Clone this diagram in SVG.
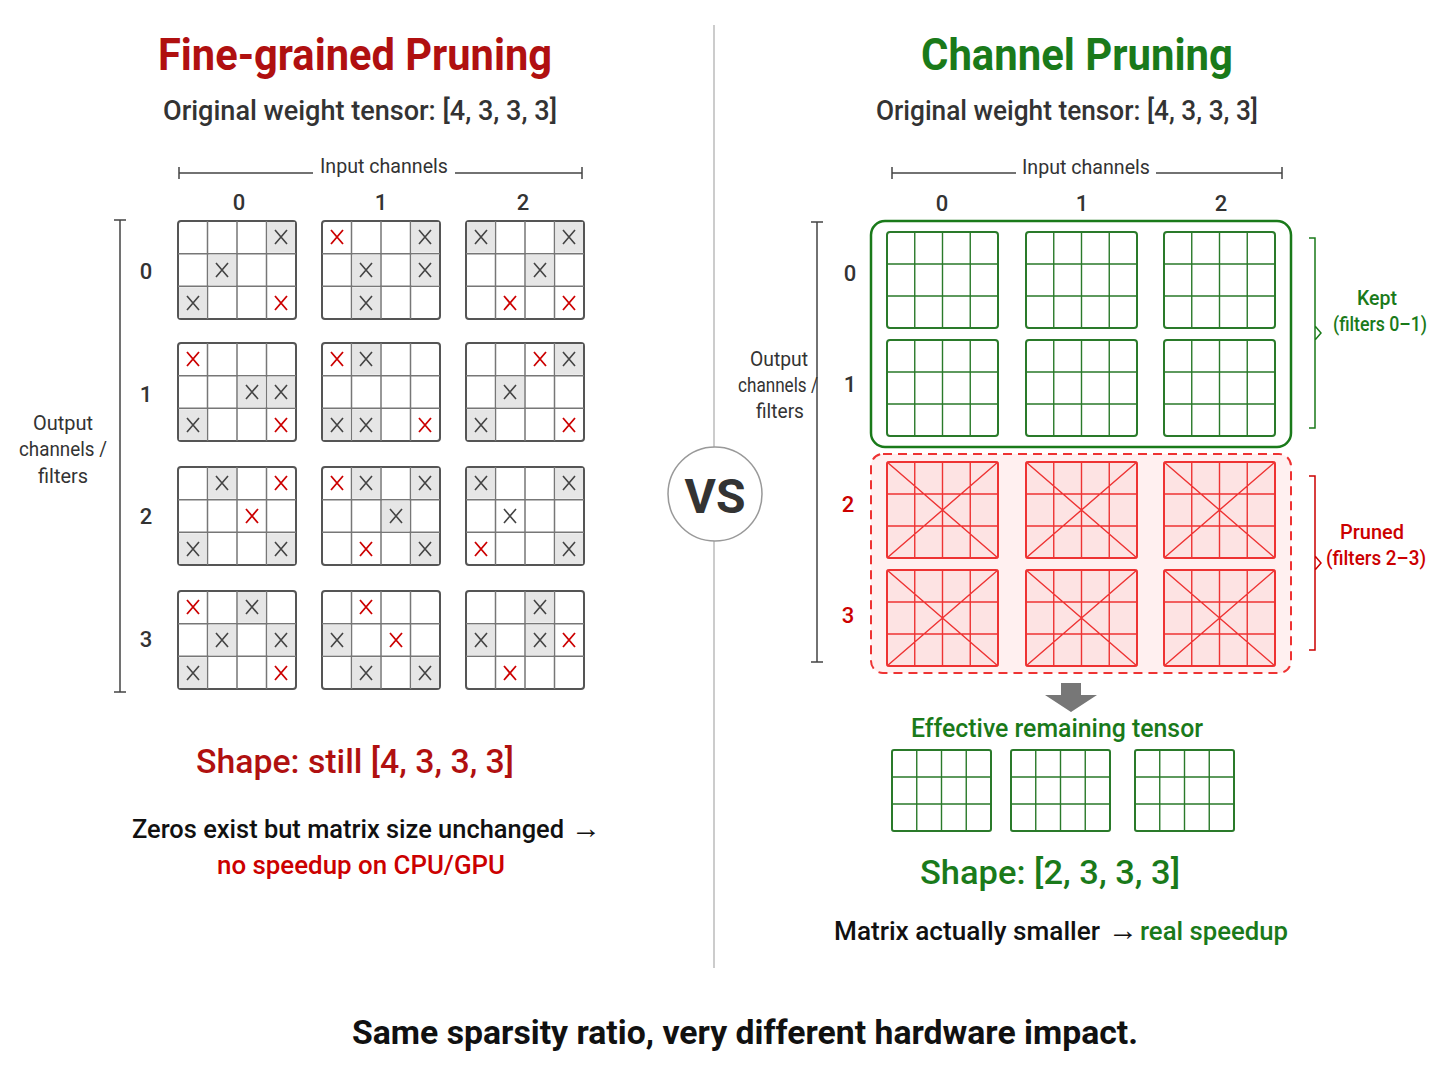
<svg xmlns="http://www.w3.org/2000/svg" width="1448" height="1086" viewBox="0 0 1448 1086">
<style>
text{font-family:Roboto,"Liberation Sans",sans-serif;}
.m{font-weight:500}
.cell{fill:none;stroke:#777;stroke-width:1.5}
.frame{fill:#fff;stroke:#555;stroke-width:2}
.sh{fill:#e6e6e6}
.xg{stroke:#444;stroke-width:1.6}
.xr{stroke:#c00;stroke-width:1.8}
.gf{fill:#fff;stroke:#2a7a2a;stroke-width:2}
.gl{stroke:#2a7a2a;stroke-width:1.4}
.rf{fill:#fde3e3;stroke:#e33;stroke-width:2}
.rl{stroke:#e33;stroke-width:1.4}
.br{fill:none;stroke:#444;stroke-width:1.5}
</style>
<rect width="1448" height="1086" fill="#fff"/>
<defs>
<g id="gridL">
<rect class="frame" x="0" y="0" width="118" height="98" rx="3"/>
<path class="cell" d="M29.5 0V98M59 0V98M88.5 0V98M0 32.7H118M0 65.3H118"/>
</g>
<g id="gridG">
<rect class="gf" x="0" y="0" width="111" height="96" rx="3"/>
<path class="gl" d="M27.75 0V96M55.5 0V96M83.25 0V96M0 32H111M0 64H111"/>
</g>
<g id="gridR">
<rect class="rf" x="0" y="0" width="111" height="96" rx="2"/>
<path class="rl" d="M27.75 0V96M55.5 0V96M83.25 0V96M0 32H111M0 64H111M0 0L111 96M111 0L0 96"/>
</g>
<g id="gridE">
<rect class="gf" x="0" y="0" width="99" height="81" rx="2"/>
<path class="gl" d="M24.75 0V81M49.5 0V81M74.25 0V81M0 27H99M0 54H99"/>
</g>
<path id="xx" d="M-6 -7L6 7M6 -7L-6 7"/>
</defs>

<g id="divider"><line x1="714" y1="25" x2="714" y2="968" stroke="#bbb" stroke-width="1.5"/></g>

<g id="left-titles">
<text x="355" y="70" font-size="44" font-weight="bold" fill="#b01010" text-anchor="middle" textLength="394" lengthAdjust="spacingAndGlyphs">Fine-grained Pruning</text>
<text class="m" x="360" y="120" font-size="28" fill="#333" text-anchor="middle" textLength="394" lengthAdjust="spacingAndGlyphs">Original weight tensor: [4, 3, 3, 3]</text>
<text x="384" y="173" font-size="20" fill="#333" text-anchor="middle" textLength="128" lengthAdjust="spacingAndGlyphs">Input channels</text>
<path class="br" d="M179 167V179M179 173H313M455 173H582M582 167V179"/>
<text class="m" x="239" y="210" font-size="22" fill="#333" text-anchor="middle">0</text>
<text class="m" x="381" y="210" font-size="22" fill="#333" text-anchor="middle">1</text>
<text class="m" x="523" y="210" font-size="22" fill="#333" text-anchor="middle">2</text>
<path class="br" d="M114 220H126M120 220V692M114 692H126"/>
<text x="63" y="430" font-size="20" fill="#333" text-anchor="middle" textLength="60" lengthAdjust="spacingAndGlyphs">Output</text>
<text x="63" y="456" font-size="20" fill="#333" text-anchor="middle" textLength="88" lengthAdjust="spacingAndGlyphs">channels /</text>
<text x="63" y="483" font-size="20" fill="#333" text-anchor="middle" textLength="50" lengthAdjust="spacingAndGlyphs">filters</text>
<text class="m" x="146" y="279" font-size="22" fill="#333" text-anchor="middle">0</text>
<text class="m" x="146" y="402" font-size="22" fill="#333" text-anchor="middle">1</text>
<text class="m" x="146" y="524" font-size="22" fill="#333" text-anchor="middle">2</text>
<text class="m" x="146" y="647" font-size="22" fill="#333" text-anchor="middle">3</text>
<text class="m" x="355" y="773" font-size="34" fill="#b01010" text-anchor="middle" textLength="318" lengthAdjust="spacingAndGlyphs">Shape: still [4, 3, 3, 3]</text>
<text class="m" x="132" y="838" font-size="26" fill="#111" textLength="432" lengthAdjust="spacingAndGlyphs">Zeros exist but matrix size unchanged</text>
<text class="m" x="571" y="838" font-size="30" fill="#111">→</text>
<text class="m" x="361" y="874" font-size="26" fill="#c00" text-anchor="middle" textLength="288" lengthAdjust="spacingAndGlyphs">no speedup on CPU/GPU</text>
</g>

<g id="vs">
<circle cx="715" cy="494" r="47" fill="#fff" stroke="#999" stroke-width="1.5"/>
<text x="715" y="513" font-size="48" font-weight="bold" fill="#333" text-anchor="middle">VS</text>
</g>

<g id="right-titles">
<text x="1077" y="70" font-size="44" font-weight="bold" fill="#1a7a1a" text-anchor="middle" textLength="312" lengthAdjust="spacingAndGlyphs">Channel Pruning</text>
<text class="m" x="1067" y="120" font-size="28" fill="#333" text-anchor="middle" textLength="382" lengthAdjust="spacingAndGlyphs">Original weight tensor: [4, 3, 3, 3]</text>
<text x="1086" y="174" font-size="20" fill="#333" text-anchor="middle" textLength="128" lengthAdjust="spacingAndGlyphs">Input channels</text>
<path class="br" d="M892 167V179M892 173H1016M1156 173H1282M1282 167V179"/>
<text class="m" x="942" y="211" font-size="22" fill="#333" text-anchor="middle">0</text>
<text class="m" x="1082" y="211" font-size="22" fill="#333" text-anchor="middle">1</text>
<text class="m" x="1221" y="211" font-size="22" fill="#333" text-anchor="middle">2</text>
<path class="br" d="M811 222H823M817 222V662M811 662H823"/>
<text x="779" y="366" font-size="20" fill="#333" text-anchor="middle" textLength="58" lengthAdjust="spacingAndGlyphs">Output</text>
<text x="778" y="392" font-size="20" fill="#333" text-anchor="middle" textLength="80" lengthAdjust="spacingAndGlyphs">channels /</text>
<text x="780" y="418" font-size="20" fill="#333" text-anchor="middle" textLength="48" lengthAdjust="spacingAndGlyphs">filters</text>
<text class="m" x="850" y="281" font-size="22" fill="#333" text-anchor="middle">0</text>
<text class="m" x="850" y="392" font-size="22" fill="#333" text-anchor="middle">1</text>
<text class="m" x="848" y="512" font-size="22" fill="#c00" text-anchor="middle">2</text>
<text class="m" x="848" y="623" font-size="22" fill="#c00" text-anchor="middle">3</text>
</g>

<g id="kept">
<rect x="871" y="221" width="420" height="226" rx="14" fill="#fff" stroke="#1a7a1a" stroke-width="2.5"/>
<use href="#gridG" x="887" y="232"/><use href="#gridG" x="1026" y="232"/><use href="#gridG" x="1164" y="232"/>
<use href="#gridG" x="887" y="340"/><use href="#gridG" x="1026" y="340"/><use href="#gridG" x="1164" y="340"/>
<path d="M1309 238H1315V428H1309M1315 326L1321 333L1315 340" fill="none" stroke="#1a7a1a" stroke-width="1.5"/>
<text class="m" x="1377" y="305" font-size="20" fill="#1a7a1a" text-anchor="middle" textLength="40" lengthAdjust="spacingAndGlyphs">Kept</text>
<text class="m" x="1380" y="331" font-size="20" fill="#1a7a1a" text-anchor="middle" textLength="94" lengthAdjust="spacingAndGlyphs">(filters 0–1)</text>
</g>

<g id="pruned">
<rect x="871" y="454" width="420" height="219" rx="12" fill="#fff0f0" stroke="#e33" stroke-width="2" stroke-dasharray="9 6"/>
<use href="#gridR" x="887" y="462"/><use href="#gridR" x="1026" y="462"/><use href="#gridR" x="1164" y="462"/>
<use href="#gridR" x="887" y="570"/><use href="#gridR" x="1026" y="570"/><use href="#gridR" x="1164" y="570"/>
<path d="M1309 476H1315V650H1309M1315 556L1321 563L1315 570" fill="none" stroke="#c00" stroke-width="1.5"/>
<text class="m" x="1372" y="539" font-size="20" fill="#c00" text-anchor="middle" textLength="64" lengthAdjust="spacingAndGlyphs">Pruned</text>
<text class="m" x="1376" y="565" font-size="20" fill="#c00" text-anchor="middle" textLength="100" lengthAdjust="spacingAndGlyphs">(filters 2–3)</text>
</g>

<g id="arrow"><path d="M1061 683H1081V695H1097L1071 712L1045 695H1061Z" fill="#777"/></g>

<g id="effective">
<text class="m" x="1057" y="737" font-size="26" fill="#1a7a1a" text-anchor="middle" textLength="292" lengthAdjust="spacingAndGlyphs">Effective remaining tensor</text>
<use href="#gridE" x="892" y="750"/><use href="#gridE" x="1011" y="750"/><use href="#gridE" x="1135" y="750"/>
<text class="m" x="1050" y="884" font-size="34" fill="#1a7a1a" text-anchor="middle" textLength="260" lengthAdjust="spacingAndGlyphs">Shape: [2, 3, 3, 3]</text>
<text class="m" x="834" y="940" font-size="26" fill="#111" textLength="266" lengthAdjust="spacingAndGlyphs">Matrix actually smaller</text>
<text class="m" x="1108" y="940" font-size="30" fill="#111">→</text>
<text class="m" x="1140" y="940" font-size="26" fill="#1a7a1a" textLength="148" lengthAdjust="spacingAndGlyphs">real speedup</text>
</g>

<g id="footer"><text x="745" y="1044" font-size="34" font-weight="bold" fill="#111" text-anchor="middle" textLength="786" lengthAdjust="spacingAndGlyphs">Same sparsity ratio, very different hardware impact.</text></g>

<g id="fine-grids">
<g transform="translate(178,221)"><use href="#gridL"/>
<rect class="sh" x="89.5" y="1" width="27.5" height="30.7"/><rect class="sh" x="30.5" y="33.7" width="27.5" height="30.6"/><rect class="sh" x="1" y="66.3" width="27.5" height="30.7"/>
<use href="#xx" class="xg" x="103" y="16"/><use href="#xx" class="xg" x="44" y="49"/><use href="#xx" class="xg" x="15" y="82"/><use href="#xx" class="xr" x="103" y="82"/></g>
<g transform="translate(322,221)"><use href="#gridL"/>
<rect class="sh" x="89.5" y="1" width="27.5" height="30.7"/><rect class="sh" x="30.5" y="33.7" width="27.5" height="30.6"/><rect class="sh" x="89.5" y="33.7" width="27.5" height="30.6"/><rect class="sh" x="30.5" y="66.3" width="27.5" height="30.7"/>
<use href="#xx" class="xr" x="15" y="16"/><use href="#xx" class="xg" x="103" y="16"/><use href="#xx" class="xg" x="44" y="49"/><use href="#xx" class="xg" x="103" y="49"/><use href="#xx" class="xg" x="44" y="82"/></g>
<g transform="translate(466,221)"><use href="#gridL"/>
<rect class="sh" x="1" y="1" width="27.5" height="30.7"/><rect class="sh" x="89.5" y="1" width="27.5" height="30.7"/><rect class="sh" x="60" y="33.7" width="27.5" height="30.6"/>
<use href="#xx" class="xg" x="15" y="16"/><use href="#xx" class="xg" x="103" y="16"/><use href="#xx" class="xg" x="74" y="49"/><use href="#xx" class="xr" x="44" y="82"/><use href="#xx" class="xr" x="103" y="82"/></g>
<g transform="translate(178,343)"><use href="#gridL"/>
<rect class="sh" x="60" y="33.7" width="27.5" height="30.6"/><rect class="sh" x="89.5" y="33.7" width="27.5" height="30.6"/><rect class="sh" x="1" y="66.3" width="27.5" height="30.7"/>
<use href="#xx" class="xr" x="15" y="16"/><use href="#xx" class="xg" x="74" y="49"/><use href="#xx" class="xg" x="103" y="49"/><use href="#xx" class="xg" x="15" y="82"/><use href="#xx" class="xr" x="103" y="82"/></g>
<g transform="translate(322,343)"><use href="#gridL"/>
<rect class="sh" x="30.5" y="1" width="27.5" height="30.7"/><rect class="sh" x="1" y="66.3" width="27.5" height="30.7"/><rect class="sh" x="30.5" y="66.3" width="27.5" height="30.7"/>
<use href="#xx" class="xr" x="15" y="16"/><use href="#xx" class="xg" x="44" y="16"/><use href="#xx" class="xg" x="15" y="82"/><use href="#xx" class="xg" x="44" y="82"/><use href="#xx" class="xr" x="103" y="82"/></g>
<g transform="translate(466,343)"><use href="#gridL"/>
<rect class="sh" x="89.5" y="1" width="27.5" height="30.7"/><rect class="sh" x="30.5" y="33.7" width="27.5" height="30.6"/><rect class="sh" x="1" y="66.3" width="27.5" height="30.7"/>
<use href="#xx" class="xr" x="74" y="16"/><use href="#xx" class="xg" x="103" y="16"/><use href="#xx" class="xg" x="44" y="49"/><use href="#xx" class="xg" x="15" y="82"/><use href="#xx" class="xr" x="103" y="82"/></g>
<g transform="translate(178,467)"><use href="#gridL"/>
<rect class="sh" x="30.5" y="1" width="27.5" height="30.7"/><rect class="sh" x="1" y="66.3" width="27.5" height="30.7"/><rect class="sh" x="89.5" y="66.3" width="27.5" height="30.7"/>
<use href="#xx" class="xg" x="44" y="16"/><use href="#xx" class="xr" x="103" y="16"/><use href="#xx" class="xr" x="74" y="49"/><use href="#xx" class="xg" x="15" y="82"/><use href="#xx" class="xg" x="103" y="82"/></g>
<g transform="translate(322,467)"><use href="#gridL"/>
<rect class="sh" x="30.5" y="1" width="27.5" height="30.7"/><rect class="sh" x="89.5" y="1" width="27.5" height="30.7"/><rect class="sh" x="60" y="33.7" width="27.5" height="30.6"/><rect class="sh" x="89.5" y="66.3" width="27.5" height="30.7"/>
<use href="#xx" class="xr" x="15" y="16"/><use href="#xx" class="xg" x="44" y="16"/><use href="#xx" class="xg" x="103" y="16"/><use href="#xx" class="xg" x="74" y="49"/><use href="#xx" class="xr" x="44" y="82"/><use href="#xx" class="xg" x="103" y="82"/></g>
<g transform="translate(466,467)"><use href="#gridL"/>
<rect class="sh" x="1" y="1" width="27.5" height="30.7"/><rect class="sh" x="89.5" y="1" width="27.5" height="30.7"/><rect class="sh" x="89.5" y="66.3" width="27.5" height="30.7"/>
<use href="#xx" class="xg" x="15" y="16"/><use href="#xx" class="xg" x="103" y="16"/><use href="#xx" class="xg" x="44" y="49"/><use href="#xx" class="xr" x="15" y="82"/><use href="#xx" class="xg" x="103" y="82"/></g>
<g transform="translate(178,591)"><use href="#gridL"/>
<rect class="sh" x="60" y="1" width="27.5" height="30.7"/><rect class="sh" x="30.5" y="33.7" width="27.5" height="30.6"/><rect class="sh" x="89.5" y="33.7" width="27.5" height="30.6"/><rect class="sh" x="1" y="66.3" width="27.5" height="30.7"/>
<use href="#xx" class="xr" x="15" y="16"/><use href="#xx" class="xg" x="74" y="16"/><use href="#xx" class="xg" x="44" y="49"/><use href="#xx" class="xg" x="103" y="49"/><use href="#xx" class="xg" x="15" y="82"/><use href="#xx" class="xr" x="103" y="82"/></g>
<g transform="translate(322,591)"><use href="#gridL"/>
<rect class="sh" x="1" y="33.7" width="27.5" height="30.6"/><rect class="sh" x="30.5" y="66.3" width="27.5" height="30.7"/><rect class="sh" x="89.5" y="66.3" width="27.5" height="30.7"/>
<use href="#xx" class="xr" x="44" y="16"/><use href="#xx" class="xg" x="15" y="49"/><use href="#xx" class="xr" x="74" y="49"/><use href="#xx" class="xg" x="44" y="82"/><use href="#xx" class="xg" x="103" y="82"/></g>
<g transform="translate(466,591)"><use href="#gridL"/>
<rect class="sh" x="60" y="1" width="27.5" height="30.7"/><rect class="sh" x="1" y="33.7" width="27.5" height="30.6"/><rect class="sh" x="60" y="33.7" width="27.5" height="30.6"/>
<use href="#xx" class="xg" x="74" y="16"/><use href="#xx" class="xg" x="15" y="49"/><use href="#xx" class="xg" x="74" y="49"/><use href="#xx" class="xr" x="103" y="49"/><use href="#xx" class="xr" x="44" y="82"/></g>
</g>
</svg>
